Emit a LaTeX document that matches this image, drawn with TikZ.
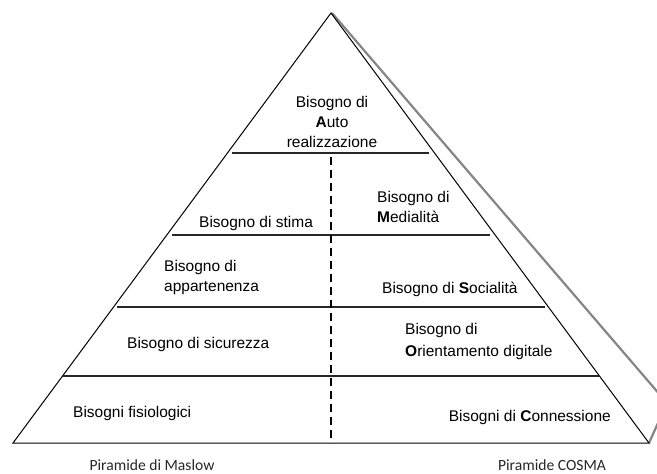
\documentclass[tikz,border=0pt]{standalone}
\usepackage{fontspec}
\setmainfont{Liberation Sans}
\newfontfamily\capfont{Carlito}
\begin{document}
\begin{tikzpicture}[x=1pt,y=-1pt,
  txt/.style={inner sep=0pt,text=black,font=\fontsize{15.5}{20}\selectfont},
  lft/.style={txt,anchor=base west},
  ctr/.style={txt,anchor=base},
  rgt/.style={txt,anchor=base east},
  pyrcap/.style={inner sep=0pt,anchor=base,text=black!85,font=\capfont\fontsize{15.6}{18}\selectfont},
  edgeline/.style={line width=1pt,black,line join=miter},
  sideline/.style={line width=2.2pt,black!48,line join=round},
  levelline/.style={line width=1.3pt,black!85},
  divider/.style={line width=2.2pt,black,dash pattern=on 8pt off 5pt}
]
\useasboundingbox (0,0) rectangle (657,474);
\clip (0,0) rectangle (657,474);
% coordinates
\coordinate (apex) at (331,13);
\coordinate (bl) at (13,443);
\coordinate (br) at (649,443);
\coordinate (sidecorner) at (667,403);
% 3D side
\draw[sideline] (332,13) -- (sidecorner) -- (br);
% main triangle
\draw[edgeline] (apex) -- (bl) -- (br) -- cycle;
% level lines
\coordinate (l1a) at (232,153); \coordinate (l1b) at (429,153);
\coordinate (l2a) at (172,235); \coordinate (l2b) at (490,235);
\coordinate (l3a) at (117,307); \coordinate (l3b) at (545,307);
\coordinate (l4a) at (63,376);  \coordinate (l4b) at (599,376);
\draw[levelline] (l1a) -- (l1b);
\draw[levelline] (l2a) -- (l2b);
\draw[levelline] (l3a) -- (l3b);
\draw[levelline] (l4a) -- (l4b);
% divider
\coordinate (dtop) at (331,157);
\coordinate (dbot) at (331,443);
\draw[divider] (dtop) -- (dbot);
% texts
\node[ctr] (a1) at (332,107) {Bisogno di};
\node[ctr] (a2) at (332,127) {\textbf{A}uto};
\node[ctr] (a3) at (332,147) {realizzazione};
\node[lft] (stima) at (199,227) {Bisogno di stima};
\node[lft] (m1) at (377,202) {Bisogno di};
\node[lft] (m2) at (377,222) {\textbf{M}edialità};
\node[lft] (ap1) at (164,271) {Bisogno di};
\node[lft] (ap2) at (164,291) {appartenenza};
\node[lft] (soc) at (382,293) {Bisogno di \textbf{S}ocialità};
\node[lft] (sic) at (127,348) {Bisogno di sicurezza};
\node[lft] (or1) at (405,334) {Bisogno di};
\node[lft] (or2) at (405,356) {\textbf{O}rientamento digitale};
\node[lft] (fis) at (73,417) {Bisogni fisiologici};
\node[rgt] (con) at (611,421) {Bisogni di \textbf{C}onnessione};
\node[pyrcap] (maslow) at (152,470) {Piramide di Maslow};
\node[pyrcap] (cosma) at (552,470) {Piramide COSMA};
\end{tikzpicture}
\end{document}
